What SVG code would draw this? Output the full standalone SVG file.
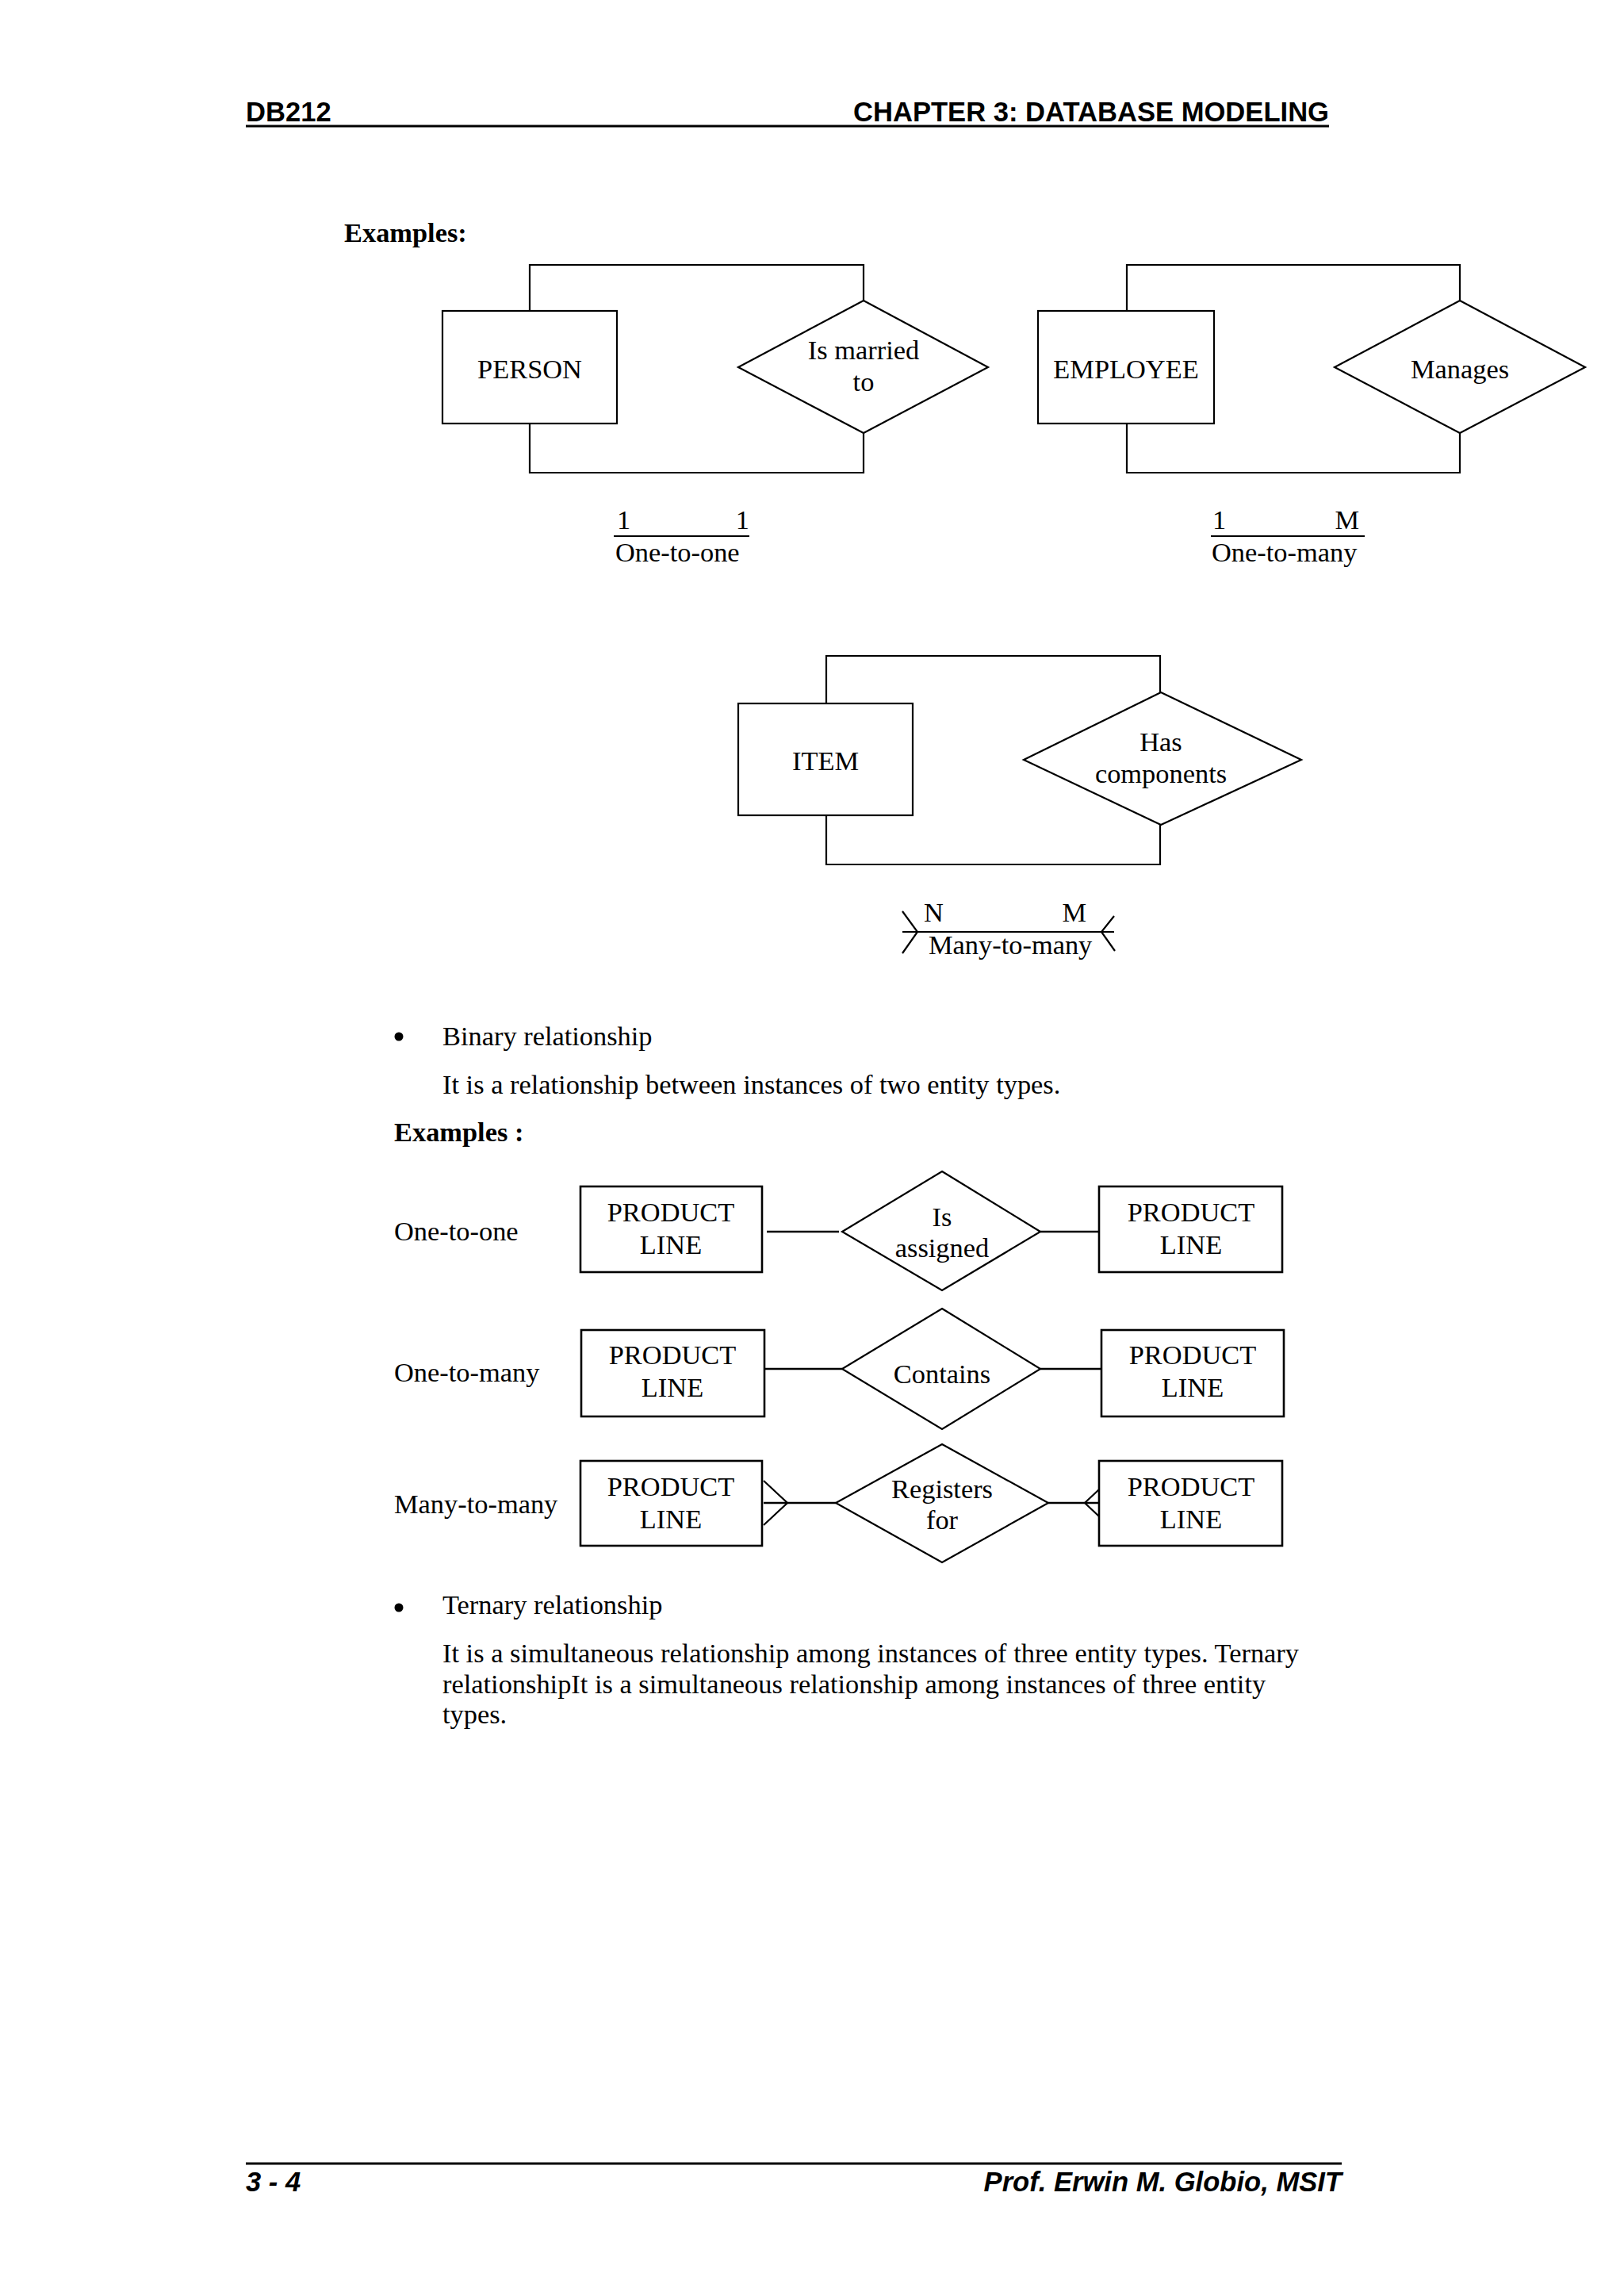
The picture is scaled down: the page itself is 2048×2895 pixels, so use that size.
<svg xmlns="http://www.w3.org/2000/svg" width="2048" height="2895" viewBox="0 0 2048 2895">
<style>
.bg{fill:#fff}
.t{font-family:"Liberation Serif","Times New Roman",serif;font-size:34.4px;fill:#000}
.c{text-anchor:middle}
.b{font-weight:bold}
.hf{font-family:"Liberation Sans",Arial,sans-serif;font-size:34.6px;font-weight:bold;fill:#000}
.i{font-style:italic}
.ent{fill:#fff;stroke:#000;stroke-width:2.2}
.ent2{fill:#fff;stroke:#000;stroke-width:2.6}
.rel{fill:#fff;stroke:#000;stroke-width:2.2}
.ln{fill:none;stroke:#000;stroke-width:2.2}
.ln2{fill:none;stroke:#000;stroke-width:2.6}
.rule{stroke:#000;stroke-width:3}
</style>
<rect class="bg" x="0" y="0" width="2048" height="2895"/>

<g id="header">
<text class="hf" x="310" y="153">DB212</text>
<text class="hf" x="1676" y="153" text-anchor="end">CHAPTER 3: DATABASE MODELING</text>
<line class="rule" x1="310" y1="159" x2="1676" y2="159"/>
</g>

<text class="t b" x="434" y="305">Examples:</text>

<g id="connectors">
<!-- PERSON recursive -->
<polyline class="ln" points="668,392 668,334 1089,334 1089,379"/>
<polyline class="ln" points="668,534 668,596 1089,596 1089,546"/>
<!-- EMPLOYEE recursive -->
<polyline class="ln" points="1421,392 1421,334 1841,334 1841,379"/>
<polyline class="ln" points="1421,534 1421,596 1841,596 1841,546"/>
<!-- ITEM recursive -->
<polyline class="ln" points="1042,887 1042,827 1463,827 1463,873"/>
<polyline class="ln" points="1042,1028 1042,1090 1463,1090 1463,1040"/>
<!-- row 1 -->
<line class="ln2" x1="967" y1="1553" x2="1058" y2="1553"/>
<line class="ln2" x1="1312" y1="1553" x2="1386" y2="1553"/>
<!-- row 2 -->
<line class="ln2" x1="964" y1="1726" x2="1062" y2="1726"/>
<line class="ln2" x1="1312" y1="1726" x2="1389" y2="1726"/>
<!-- row 3 -->
<line class="ln2" x1="963" y1="1895" x2="1054" y2="1895"/>
<polyline class="ln" points="963,1867 993,1895 963,1923"/>
<line class="ln2" x1="1322" y1="1895" x2="1386" y2="1895"/>
<polyline class="ln" points="1386,1878 1368,1895 1386,1912"/>
</g>

<g id="person">
<rect class="ent" x="558" y="392" width="220" height="142"/>
<text class="t c" x="668" y="477">PERSON</text>
</g>
<g id="is-married-to">
<polygon class="rel" points="1089,379 1246,463 1089,546 931,463"/>
<text class="t c" x="1089" y="453">Is married</text>
<text class="t c" x="1089" y="493">to</text>
</g>
<g id="card-one-to-one">
<text class="t" x="778" y="667">1</text>
<text class="t" x="945" y="667" text-anchor="end">1</text>
<line class="ln" x1="774" y1="676" x2="945" y2="676"/>
<text class="t" x="776" y="708">One-to-one</text>
</g>

<g id="employee">
<rect class="ent" x="1309" y="392" width="222" height="142"/>
<text class="t c" x="1420" y="477">EMPLOYEE</text>
</g>
<g id="manages">
<polygon class="rel" points="1841,379 1999,463 1841,546 1683,463"/>
<text class="t c" x="1841" y="477">Manages</text>
</g>
<g id="card-one-to-many">
<text class="t" x="1529" y="667">1</text>
<text class="t" x="1714" y="667" text-anchor="end">M</text>
<line class="ln" x1="1527" y1="676" x2="1721" y2="676"/>
<text class="t" x="1528" y="708">One-to-many</text>
</g>

<g id="item">
<rect class="ent" x="931" y="887" width="220" height="141"/>
<text class="t c" x="1041" y="971">ITEM</text>
</g>
<g id="has-components">
<polygon class="rel" points="1464,873 1641,958 1464,1040 1291,958"/>
<text class="t c" x="1464" y="947">Has</text>
<text class="t c" x="1464" y="987">components</text>
</g>
<g id="card-many-to-many">
<text class="t" x="1165" y="1162">N</text>
<text class="t" x="1370" y="1162" text-anchor="end">M</text>
<line class="ln" x1="1138" y1="1175" x2="1405" y2="1175"/>
<polyline class="ln" points="1138,1149 1157,1175 1138,1202"/>
<polyline class="ln" points="1405,1155 1389,1175 1406,1199"/>
<text class="t" x="1171" y="1203">Many-to-many</text>
</g>

<g id="binary-text">
<circle cx="503" cy="1307" r="5.5" fill="#000"/>
<text class="t" x="558" y="1318">Binary relationship</text>
<text class="t" x="558" y="1379">It is a relationship between instances of two entity types.</text>
<text class="t b" x="497" y="1439">Examples :</text>
</g>

<g id="row-labels">
<text class="t" x="497" y="1564">One-to-one</text>
<text class="t" x="497" y="1742">One-to-many</text>
<text class="t" x="497" y="1908">Many-to-many</text>
</g>

<g id="pl-1a">
<rect class="ent2" x="732" y="1496" width="229" height="108"/>
<text class="t c" x="846" y="1540">PRODUCT</text>
<text class="t c" x="846" y="1581">LINE</text>
</g>
<g id="is-assigned">
<polygon class="rel" points="1188,1477 1312,1553 1188,1627 1062,1553"/>
<text class="t c" x="1188" y="1546">Is</text>
<text class="t c" x="1188" y="1585">assigned</text>
</g>
<g id="pl-1b">
<rect class="ent2" x="1386" y="1496" width="231" height="108"/>
<text class="t c" x="1502" y="1540">PRODUCT</text>
<text class="t c" x="1502" y="1581">LINE</text>
</g>

<g id="pl-2a">
<rect class="ent2" x="733" y="1677" width="231" height="109"/>
<text class="t c" x="848" y="1720">PRODUCT</text>
<text class="t c" x="848" y="1761">LINE</text>
</g>
<g id="contains">
<polygon class="rel" points="1188,1650 1312,1726 1188,1802 1062,1726"/>
<text class="t c" x="1188" y="1744">Contains</text>
</g>
<g id="pl-2b">
<rect class="ent2" x="1389" y="1677" width="230" height="109"/>
<text class="t c" x="1504" y="1720">PRODUCT</text>
<text class="t c" x="1504" y="1761">LINE</text>
</g>

<g id="pl-3a">
<rect class="ent2" x="732" y="1842" width="229" height="107"/>
<text class="t c" x="846" y="1886">PRODUCT</text>
<text class="t c" x="846" y="1927">LINE</text>
</g>
<g id="registers-for">
<polygon class="rel" points="1188,1821 1322,1895 1188,1970 1054,1895"/>
<text class="t c" x="1188" y="1889">Registers</text>
<text class="t c" x="1188" y="1928">for</text>
</g>
<g id="pl-3b">
<rect class="ent2" x="1386" y="1842" width="231" height="107"/>
<text class="t c" x="1502" y="1886">PRODUCT</text>
<text class="t c" x="1502" y="1927">LINE</text>
</g>

<g id="ternary-text">
<circle cx="503" cy="2027" r="5.5" fill="#000"/>
<text class="t" x="558" y="2035">Ternary relationship</text>
<text class="t" x="558" y="2096">It is a simultaneous relationship among instances of three entity types. Ternary</text>
<text class="t" x="558" y="2135">relationshipIt is a simultaneous relationship among instances of three entity</text>
<text class="t" x="558" y="2173">types.</text>
</g>

<g id="footer">
<line class="rule" x1="310" y1="2728" x2="1692" y2="2728"/>
<text class="hf i" x="310" y="2763">3 - 4</text>
<text class="hf i" x="1692" y="2763" text-anchor="end">Prof. Erwin M. Globio, MSIT</text>
</g>
</svg>
